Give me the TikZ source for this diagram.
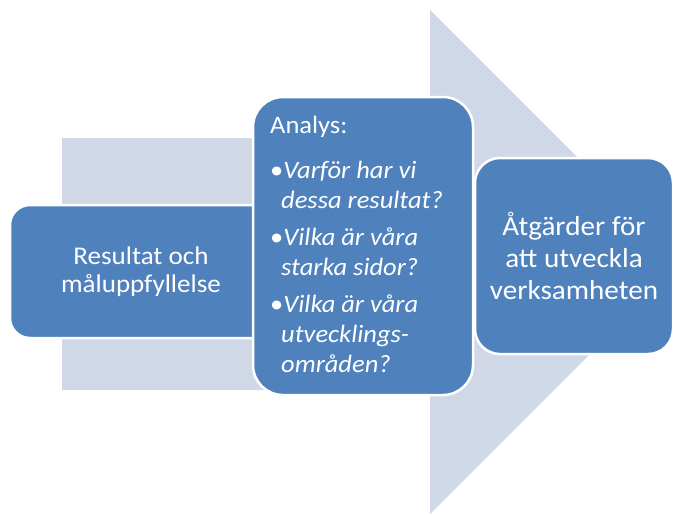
\documentclass[tikz,border=0pt]{standalone}
\usepackage{fontspec}
\usepackage{xcolor}
\usepackage{tikz}
\setmainfont{Carlito}[FakeStretch=1.06]
\definecolor{boxblue}{HTML}{4F81BD}
\definecolor{arrowgray}{HTML}{D0D8E8}
\tikzset{
  stepcard/.style={rectangle, rounded corners=#1, fill=boxblue, draw=white,
    line width=2.5pt, text=white, align=center, inner sep=0pt},
  stepcard/.default=20pt
}
\begin{document}
\begin{tikzpicture}[x=1pt,y=-1pt]
\useasboundingbox (0,0) rectangle (674,515);
\clip (0,0) rectangle (674,515);
% background arrow
\fill[arrowgray] (62,138)--(430,138)--(430,10)--(682,262)--(430,514)--(430,390)--(62,390)--cycle;
%
\node[stepcard=20pt, minimum width=262pt, minimum height=133pt,
  font=\fontsize{25.5}{28}\selectfont] (result) at (141,271.5)
  {Resultat och\\måluppfyllelse};
%
\node[stepcard=30pt, minimum width=220pt, minimum height=298pt] (analys) at (363,246) {};
\node[anchor=north west, inner sep=0pt, align=left, text=white,
  font=\fontsize{25}{30}\selectfont] (analystext) at (270,116)
  {Analys:\\[15pt]
   \textbullet\textit{Varför har vi}\\
   \hspace*{11pt}\textit{dessa resultat?}\\[7pt]
   \textbullet\textit{Vilka är våra}\\
   \hspace*{11pt}\textit{starka sidor?}\\[7pt]
   \textbullet\textit{Vilka är våra}\\
   \hspace*{11pt}\textit{utvecklings-}\\
   \hspace*{11pt}\textit{områden?}};
%
\node[stepcard=25pt, minimum width=198pt, minimum height=196pt,
  font=\fontsize{27.5}{32}\selectfont] (atgard) at (574,256)
  {Åtgärder för\\att utveckla\\verksamheten};
\end{tikzpicture}
\end{document}
